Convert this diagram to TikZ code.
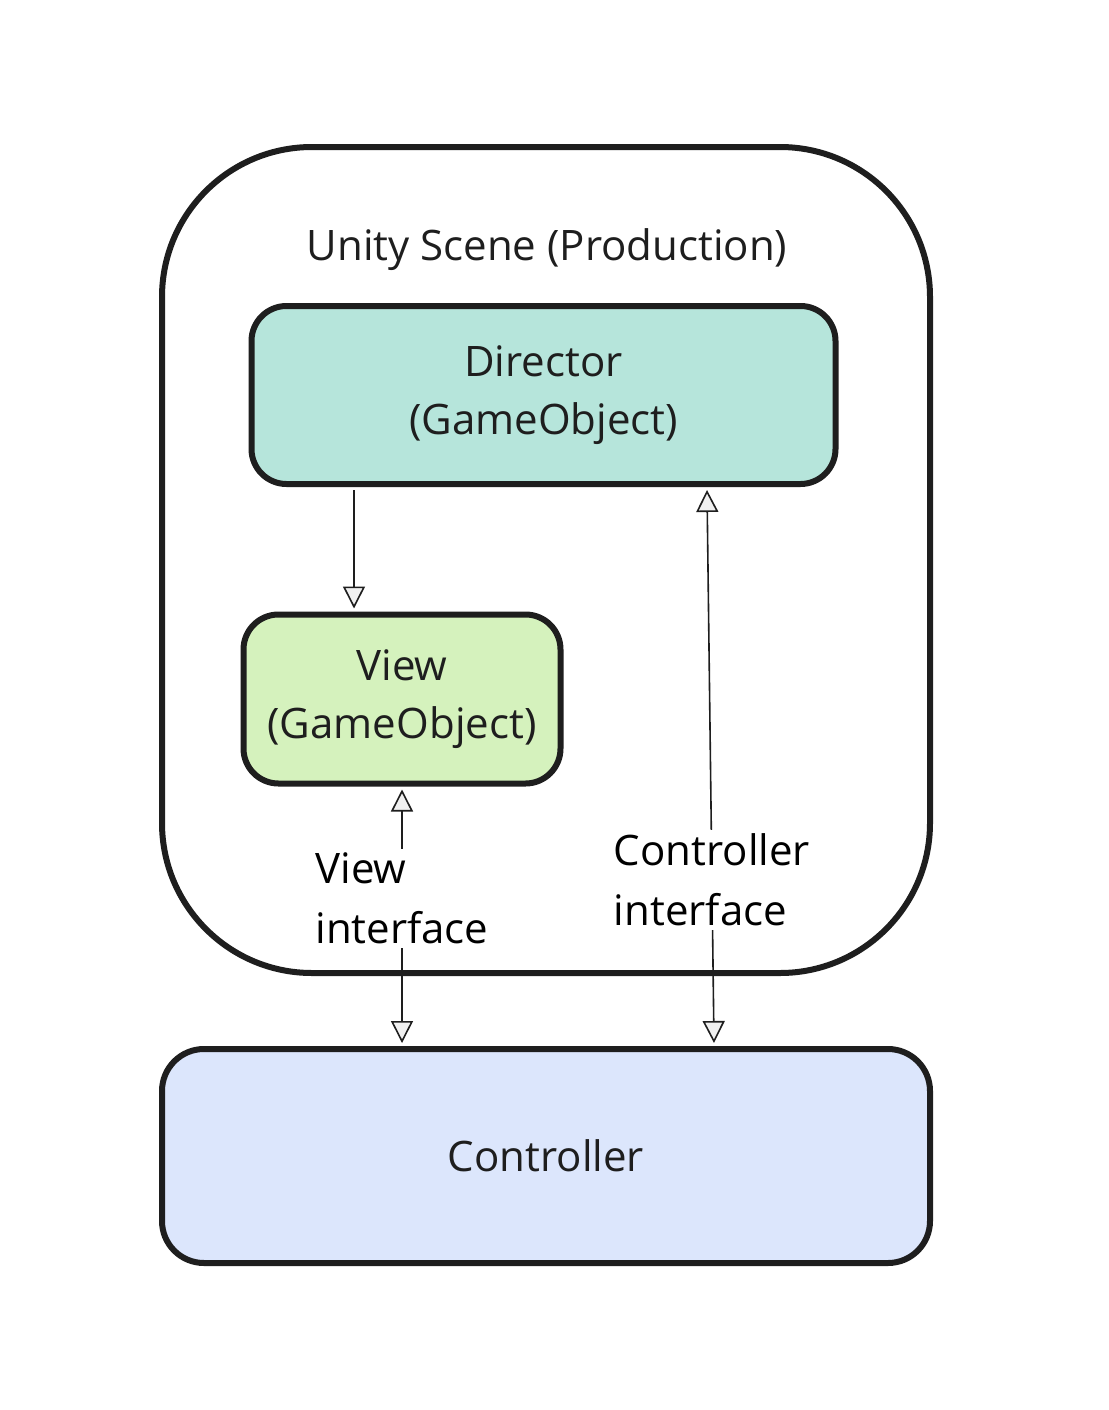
\documentclass[tikz,border=0pt]{standalone}
\usepackage{fontspec}
\setmainfont{Open Sans}
\usetikzlibrary{arrows.meta,positioning}
\definecolor{ink}{HTML}{1E1E1E}
\definecolor{dirfill}{HTML}{B6E5DB}
\definecolor{viewfill}{HTML}{D5F2BD}
\definecolor{ctrlfill}{HTML}{DCE6FC}
\tikzset{
    box/.style={draw=ink, line width=6pt, text=ink, align=center,
        font=\fontsize{42}{58}\selectfont},
    arr/.style={line width=1.6pt, draw=ink,
        -{Triangle[length=22pt, width=22pt, fill=gray!12]}},
    arrboth/.style={line width=1.6pt, draw=ink,
        {Triangle[length=22pt, width=22pt, fill=gray!12]}-{Triangle[length=22pt, width=22pt, fill=gray!12]}},
    lbl/.style={fill=white, text=black, align=left, inner sep=4pt,
        font=\fontsize{42}{60}\selectfont}
}
\begin{document}
\begin{tikzpicture}[x=1pt, y=-1pt]
    \useasboundingbox (0,0) rectangle (1108,1410);
    % scene and boxes
    \node[box, rounded corners=150pt, minimum width=768pt, minimum height=826pt,
        fill=white] (scene) at (546,560) {};
    \node[text=ink, font=\fontsize{42}{58}\selectfont] (title) at (547,250) {Unity Scene (Production)};
    \node[box, rounded corners=35pt, fill=dirfill, minimum width=584pt, minimum height=178pt]
        (dir) at (543.5,395) {Director\\(GameObject)};
    \node[box, rounded corners=35pt, fill=viewfill, minimum width=317pt, minimum height=169pt]
        (view) at (402,699) {View\\(GameObject)};
    \node[box, rounded corners=42pt, fill=ctrlfill, minimum width=768pt, minimum height=214pt]
        (ctrl) at (546,1156) {Controller};
    % connectors
    \draw[arr] ([xshift=-189.5pt, yshift=-3pt]dir.south) -- ([xshift=-48pt, yshift=3pt]view.north);
    \draw[arrboth] ([xshift=-144pt, yshift=3pt]ctrl.north) -- ([yshift=-3pt]view.south)
        node[lbl, pos=0.57] (vlbl) {View\\interface};
    \draw[arrboth] ([xshift=168pt, yshift=3pt]ctrl.north) -- ([xshift=163.5pt, yshift=-3pt]dir.south)
        node[lbl, pos=0.295] (clbl) {Controller\\interface};
\end{tikzpicture}
\end{document}
